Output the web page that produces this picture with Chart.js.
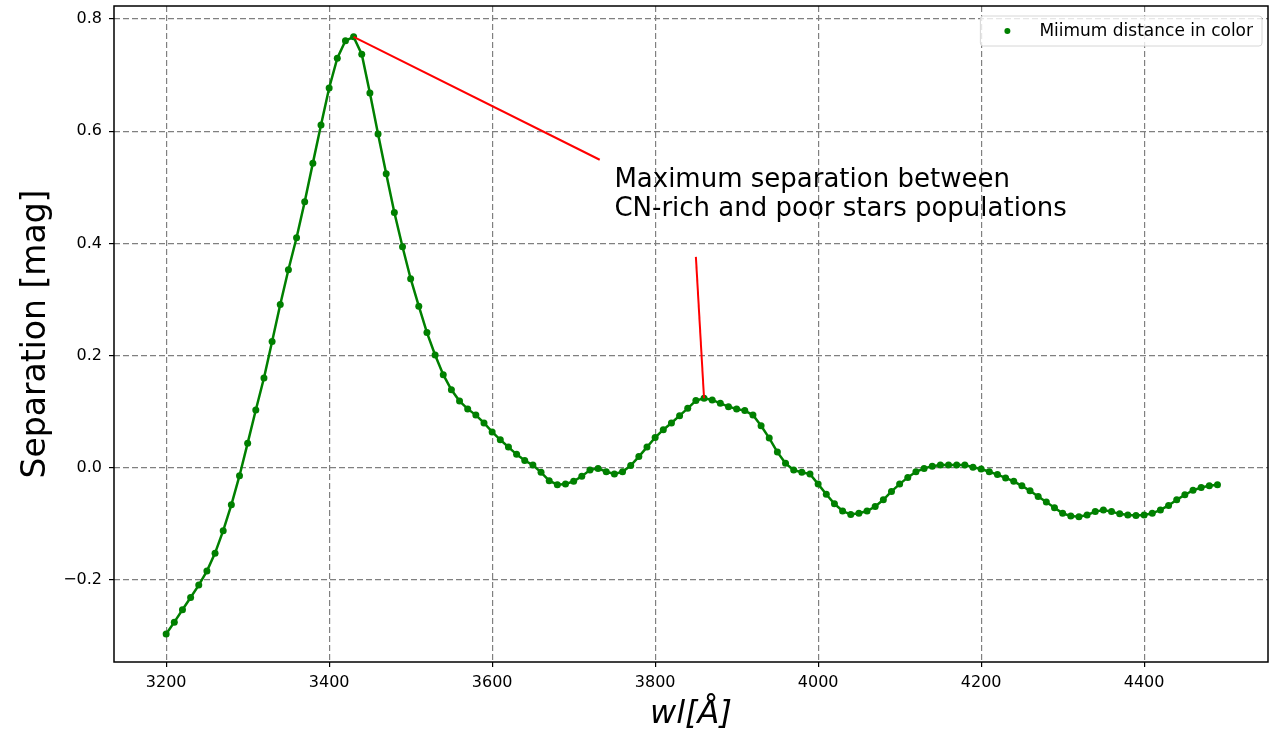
<!DOCTYPE html>
<html>
<head>
  <title>Separation vs wavelength</title>
  <script src="https://cdn.jsdelivr.net/npm/chart.js"></script>
  <style>
    body { margin: 0; background: #fff; }
  </style>
</head>
<body>
  <div style="width: 1276px; height: 734px;">
    <canvas id="sepChart" width="1276" height="734"></canvas>
  </div>

  <script>
    // wavelength grid [Angstrom]
    const wavelengths = [
      3200, 3210, 3220, 3230, 3240, 3250, 3260, 3270, 3280, 3290,
      3300, 3310, 3320, 3330, 3340, 3350, 3360, 3370, 3380, 3390,
      3400, 3410, 3420, 3430, 3440, 3450, 3460, 3470, 3480, 3490,
      3500, 3510, 3520, 3530, 3540, 3550, 3560, 3570, 3580, 3590,
      3600, 3610, 3620, 3630, 3640, 3650, 3660, 3670, 3680, 3690,
      3700, 3710, 3720, 3730, 3740, 3750, 3760, 3770, 3780, 3790,
      3800, 3810, 3820, 3830, 3840, 3850, 3860, 3870, 3880, 3890,
      3900, 3910, 3920, 3930, 3940, 3950, 3960, 3970, 3980, 3990,
      4000, 4010, 4020, 4030, 4040, 4050, 4060, 4070, 4080, 4090,
      4100, 4110, 4120, 4130, 4140, 4150, 4160, 4170, 4180, 4190,
      4200, 4210, 4220, 4230, 4240, 4250, 4260, 4270, 4280, 4290,
      4300, 4310, 4320, 4330, 4340, 4350, 4360, 4370, 4380, 4390,
      4400, 4410, 4420, 4430, 4440, 4450, 4460, 4470, 4480, 4490
    ];

    // minimum distance in color [mag]
    const separation = [
      -0.296, -0.275, -0.253, -0.231, -0.209, -0.184, -0.152, -0.112, -0.066, -0.014,
      0.044, 0.103, 0.160, 0.225, 0.291, 0.353, 0.410, 0.474, 0.543, 0.611,
      0.677, 0.730, 0.761, 0.768, 0.737, 0.668, 0.595, 0.524, 0.455, 0.394,
      0.337, 0.288, 0.241, 0.201, 0.166, 0.139, 0.119, 0.105, 0.094, 0.080,
      0.064, 0.050, 0.037, 0.024, 0.013, 0.005, -0.008, -0.023, -0.030, -0.029,
      -0.024, -0.015, -0.004, -0.001, -0.007, -0.011, -0.007, 0.004, 0.020, 0.037,
      0.054, 0.068, 0.080, 0.093, 0.106, 0.120, 0.124, 0.121, 0.115, 0.109,
      0.105, 0.102, 0.094, 0.075, 0.053, 0.028, 0.008, -0.004, -0.008, -0.011,
      -0.029, -0.047, -0.064, -0.077, -0.083, -0.081, -0.077, -0.069, -0.057, -0.042,
      -0.029, -0.017, -0.007, -0.001, 0.003, 0.005, 0.005, 0.005, 0.005, 0.001,
      -0.002, -0.007, -0.012, -0.018, -0.024, -0.032, -0.041, -0.051, -0.061, -0.071,
      -0.081, -0.086, -0.087, -0.084, -0.078, -0.075, -0.078, -0.082, -0.084, -0.085,
      -0.084, -0.081, -0.075, -0.067, -0.057, -0.048, -0.040, -0.035, -0.032, -0.030
    ];

    const xTicks = [3200, 3400, 3600, 3800, 4000, 4200, 4400];
    const yTicks = [-0.2, 0.0, 0.2, 0.4, 0.6, 0.8];

    // annotation arrows: from point -> to (data coords)
    const arrowFrom = [[3430, 0.768], [3860, 0.124]];
    const arrowTo = [[3732, 0.549], [3850, 0.376]];
    const noteAt = [3750, 0.501];
    const noteLines = ['Maximum separation between', 'CN-rich and poor stars populations'];

    const FONT = "'DejaVu Sans', sans-serif";

    const framePlugin = {
      id: 'frame',
      afterDraw(chart) {
        const { ctx, chartArea: a } = chart;
        ctx.save();
        ctx.strokeStyle = '#000';
        ctx.lineWidth = 1.5;
        ctx.strokeRect(a.left, a.top, a.right - a.left, a.bottom - a.top);
        ctx.restore();
      }
    };

    const notePlugin = {
      id: 'notes',
      afterDatasetsDraw(chart) {
        const { ctx, scales: { x, y } } = chart;
        ctx.save();
        ctx.strokeStyle = 'red';
        ctx.lineWidth = 2;
        for (let i = 0; i < arrowFrom.length; i++) {
          ctx.beginPath();
          ctx.moveTo(x.getPixelForValue(arrowFrom[i][0]), y.getPixelForValue(arrowFrom[i][1]));
          ctx.lineTo(x.getPixelForValue(arrowTo[i][0]), y.getPixelForValue(arrowTo[i][1]));
          ctx.stroke();
        }
        ctx.fillStyle = '#000';
        ctx.font = '26px ' + FONT;
        ctx.textBaseline = 'alphabetic';
        const tx = x.getPixelForValue(noteAt[0]);
        const ty = y.getPixelForValue(noteAt[1]);
        noteLines.forEach((line, i) => ctx.fillText(line, tx, ty + i * 29.5));
        ctx.restore();
      }
    };

    const legendPlugin = {
      id: 'boxLegend',
      afterDraw(chart) {
        const { ctx, chartArea: a } = chart;
        const label = chart.data.datasets[0].label;
        ctx.save();
        ctx.font = '17px ' + FONT;
        const w = 59 + ctx.measureText(label).width + 9;
        const h = 30;
        const bx = a.right - 6 - w;
        const by = a.top + 10;
        ctx.beginPath();
        ctx.roundRect(bx, by, w, h, 3);
        ctx.fillStyle = 'rgba(255,255,255,0.8)';
        ctx.fill();
        ctx.strokeStyle = '#d6d6d6';
        ctx.lineWidth = 1;
        ctx.stroke();
        ctx.fillStyle = 'green';
        ctx.beginPath();
        ctx.arc(bx + 27, by + h / 2, 3, 0, Math.PI * 2);
        ctx.fill();
        ctx.fillStyle = '#000';
        ctx.textBaseline = 'middle';
        ctx.fillText(label, bx + 59, by + h / 2 + 1);
        ctx.restore();
      }
    };

    const gridStyle = {
      color: '#808080',
      lineWidth: 1.2,
      tickLength: 5,
      tickColor: '#000',
      tickWidth: 1.2,
      tickBorderDash: [],
    };

    const sepChart = new Chart(document.getElementById('sepChart').getContext('2d'), {
      type: 'line',
      data: {
        datasets: [{
          label: 'Miimum distance in color',
          data: wavelengths.map((wl, i) => ({ x: wl, y: separation[i] })),
          borderColor: 'green',
          backgroundColor: 'green',
          borderWidth: 2.5,
          pointRadius: 3.5,
          pointBorderWidth: 0,
          pointBackgroundColor: 'green',
          tension: 0,
          fill: false,
        }],
      },
      options: {
        responsive: false,
        animation: false,
        layout: { padding: { top: 6, right: 8, left: 0, bottom: 0 } },
        plugins: {
          legend: { display: false },
          tooltip: { enabled: false },
        },
        scales: {
          x: {
            type: 'linear',
            position: 'bottom',
            min: 3136,
            max: 4552,
            afterBuildTicks: s => { s.ticks = xTicks.map(v => ({ value: v })); },
            afterFit: s => { s.height = 72; },
            ticks: {
              color: '#000',
              font: { family: FONT, size: 16 },
              padding: 6,
              maxRotation: 0,
              callback: v => String(v),
            },
            grid: gridStyle,
            border: { display: false, dash: [6, 3] },
            title: {
              display: true,
              text: 'wl[Å]',
              color: '#000',
              font: { family: FONT, size: 32, style: 'italic' },
              padding: { top: 0, bottom: 0 },
            },
          },
          y: {
            min: -0.346,
            max: 0.823,
            afterBuildTicks: s => { s.ticks = yTicks.map(v => ({ value: v })); },
            afterFit: s => { s.width = 114; s.paddingTop = 0; s.paddingBottom = 0; },
            ticks: {
              color: '#000',
              font: { family: FONT, size: 16 },
              padding: 7,
              callback: v => (v < 0 ? '\u2212' : '') + Math.abs(v).toFixed(1),
            },
            grid: gridStyle,
            border: { display: false, dash: [6, 3] },
            title: {
              display: true,
              text: 'Separation [mag]',
              color: '#000',
              font: { family: FONT, size: 33 },
              padding: { top: 17, bottom: 0 },
            },
          },
        },
      },
      plugins: [framePlugin, notePlugin, legendPlugin],
    });
  </script>
</body>
</html>
